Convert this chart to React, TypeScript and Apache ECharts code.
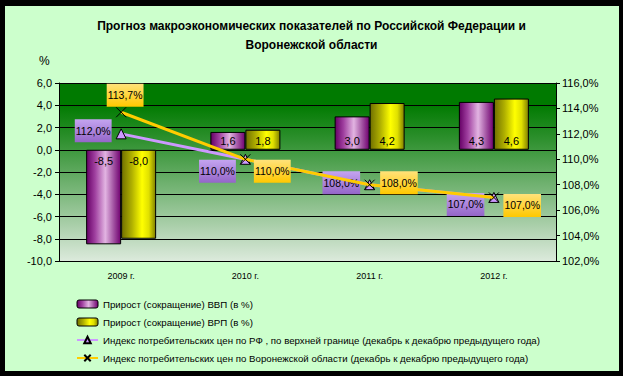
import React, { useEffect, useRef } from "react";
import * as echarts from "echarts";

const categories = ["2009 г.", "2010 г.", "2011 г.", "2012 г."];
const gdpGrowth = [-8.5, 1.6, 3.0, 4.3];
const grpGrowth = [-8.0, 1.8, 4.2, 4.6];
const cpiRF = [112.0, 110.0, 108.0, 107.0];
const cpiVoronezh = [113.7, 110.0, 108.0, 107.0];
const seriesNames = [
  "Прирост (сокращение) ВВП (в %)",
  "Прирост (сокращение) ВРП (в %)",
  "Индекс потребительских цен по РФ , по верхней границе (декабрь к декабрю предыдущего года)",
  "Индекс потребительских цен по Воронежской области (декабрь к декабрю предыдущего года)",
];
const titleLines = [
  "Прогноз макроэкономических показателей по Российской Федерации и",
  "Воронежской области",
];

const FONT = "'Liberation Sans', Arial, sans-serif";
const fmt1 = (v: number) => v.toFixed(1).replace(".", ",");

export default function App() {
  const ref = useRef<HTMLDivElement>(null);
  useEffect(() => {
    if (!ref.current) return;
    const chart = echarts.init(ref.current, undefined, { renderer: "svg" });
    const purple = new echarts.graphic.LinearGradient(0, 0, 1, 0, [
      { offset: 0, color: "#660066" },
      { offset: 0.25, color: "#A040A0" },
      { offset: 0.55, color: "#E2B4E2" },
      { offset: 0.8, color: "#A050A0" },
      { offset: 1, color: "#700070" },
    ]);
    const yellow = new echarts.graphic.LinearGradient(0, 0, 1, 0, [
      { offset: 0, color: "#707000" },
      { offset: 0.3, color: "#B0B000" },
      { offset: 0.6, color: "#FFFF00" },
      { offset: 0.8, color: "#E0E000" },
      { offset: 1, color: "#808000" },
    ]);
    const purpleBox = new echarts.graphic.LinearGradient(0, 0, 0, 1, [
      { offset: 0, color: "#C4A4F0" },
      { offset: 1, color: "#9466C8" },
    ]);
    const goldBox = new echarts.graphic.LinearGradient(0, 0, 0, 1, [
      { offset: 0, color: "#FFE27A" },
      { offset: 1, color: "#FFC800" },
    ]);
    const barLabel = (vals: number[]) =>
      vals.map((v) => ({
        value: v,
        label: {
          position: v >= 0 ? "insideBottom" : "insideTop",
          distance: v >= 0 ? 3 : 6,
        },
      }));
    const rfPos = [
      { position: "left", distance: 4, offset: [0, -3] },
      { position: "left", distance: 4, offset: [0, 12] },
      { position: "left", distance: 4, offset: [0, -2] },
      { position: "left", distance: 4, offset: [0, 7] },
    ];
    const vorPos = [
      { position: "top", distance: 0, offset: [4, 0] },
      { position: "right", distance: 3, offset: [0, 12] },
      { position: "right", distance: 5, offset: [0, -2] },
      { position: "right", distance: 4, offset: [0, 8] },
    ];
    const boxLabel = (bg: any) => ({
      show: true,
      formatter: (p: any) => fmt1(p.value) + "%",
      backgroundColor: bg,
      padding: [6, 1, 6, 1],
      color: "#000",
      fontSize: 10.5,
      fontFamily: FONT,
    });
    chart.setOption({
      animation: false,
      backgroundColor: "transparent",
      title: {
        text: titleLines.join("\n"),
        left: "center",
        top: 11,
        textStyle: {
          fontFamily: FONT,
          fontSize: 12,
          fontWeight: "bold",
          color: "#000",
          lineHeight: 19,
        },
      },
      graphic: [
        {
          type: "text",
          left: 39,
          top: 55,
          style: { text: "%", fontFamily: FONT, fontSize: 12, fill: "#000" },
        },
      ],
      grid: {
        left: 59,
        right: 67,
        top: 83,
        bottom: 115,
        show: true,
        borderWidth: 0,
        backgroundColor: new echarts.graphic.LinearGradient(0, 0, 0, 1, [
          { offset: 0, color: "#007A00" },
          { offset: 0.12, color: "#007A00" },
          { offset: 0.3, color: "#2A8E2A" },
          { offset: 0.55, color: "#6BAF6B" },
          { offset: 0.8, color: "#AACFAA" },
          { offset: 1, color: "#DCEADC" },
        ]),
      },
      legend: {
        orient: "vertical",
        left: 71,
        top: 294,
        itemGap: 8,
        itemWidth: 21,
        itemHeight: 8,
        textStyle: { fontFamily: FONT, fontSize: 9.7, color: "#000" },
        data: [
          { name: seriesNames[0], itemStyle: { borderColor: "#000", borderWidth: 1 } },
          { name: seriesNames[1], itemStyle: { borderColor: "#000", borderWidth: 1 } },
          { name: seriesNames[2] },
          { name: seriesNames[3] },
        ],
      },
      xAxis: {
        type: "category",
        data: categories,
        axisLine: { show: false },
        axisTick: { show: false },
        axisLabel: { fontFamily: FONT, fontSize: 9, color: "#000", margin: 10 },
      },
      yAxis: [
        {
          type: "value",
          min: -10,
          max: 6,
          interval: 2,
          axisLine: { show: true, lineStyle: { color: "#000" } },
          axisTick: { show: true, length: 4, lineStyle: { color: "#000" } },
          axisLabel: { formatter: (v: number) => fmt1(v), fontFamily: FONT, fontSize: 11, color: "#000", margin: 7 },
          splitLine: { show: true, lineStyle: { color: "#000", width: 1 } },
        },
        {
          type: "value",
          min: 102,
          max: 116,
          interval: 2,
          position: "right",
          axisLine: { show: true, lineStyle: { color: "#000" } },
          axisTick: { show: true, length: 4, lineStyle: { color: "#000" } },
          axisLabel: { formatter: (v: number) => fmt1(v) + "%", fontFamily: FONT, fontSize: 11, color: "#000", margin: 6 },
          splitLine: { show: false },
        },
      ],
      series: [
        {
          name: seriesNames[0],
          type: "bar",
          data: barLabel(gdpGrowth),
          barWidth: 35,
          barGap: "0%",
          itemStyle: { color: purple, borderColor: "#000", borderWidth: 1 },
          label: { show: true, formatter: (p: any) => fmt1(p.value), fontFamily: FONT, fontSize: 11, color: "#000" },
        },
        {
          name: seriesNames[1],
          type: "bar",
          data: barLabel(grpGrowth),
          barWidth: 35,
          barGap: "0%",
          itemStyle: { color: yellow, borderColor: "#000", borderWidth: 1 },
          label: { show: true, formatter: (p: any) => fmt1(p.value), fontFamily: FONT, fontSize: 11, color: "#000" },
        },
        {
          name: seriesNames[2],
          type: "line",
          yAxisIndex: 1,
          data: cpiRF.map((v, i) => ({ value: v, label: rfPos[i] })),
          symbol: "triangle",
          symbolSize: 10,
          lineStyle: { color: "#CC99FF", width: 3 },
          itemStyle: { color: "#CC99FF", borderColor: "#000", borderWidth: 1 },
          label: boxLabel(purpleBox),
          z: 3,
        },
        {
          name: seriesNames[3],
          type: "line",
          yAxisIndex: 1,
          data: cpiVoronezh.map((v, i) => ({ value: v, label: vorPos[i] })),
          symbol: "path://M0,0L10,10M10,0L0,10",
          symbolSize: 10,
          lineStyle: { color: "#FFCC00", width: 3 },
          itemStyle: { color: "#000", borderColor: "#000", borderWidth: 1 },
          label: boxLabel(goldBox),
          z: 4,
        },
      ],
    });
    return () => chart.dispose();
  }, []);
  return (
    <div style={{ position: "fixed", left: 0, top: 0, width: 623, height: 376, background: "#000" }}>
      <div style={{ position: "absolute", left: 5, top: 6, width: 614, height: 365, background: "#CCFFCC" }} />
      <div ref={ref} style={{ position: "absolute", left: 0, top: 0, width: 623, height: 376 }} />
    </div>
  );
}
